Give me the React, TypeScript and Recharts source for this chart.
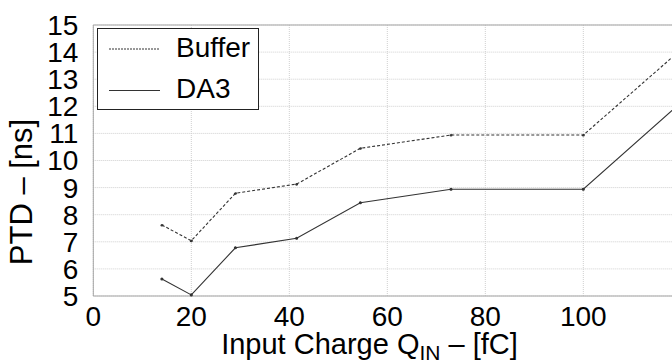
import { CartesianGrid, Legend, Line, LineChart, ReferenceLine, XAxis, YAxis } from "recharts";

const charge = [14, 20, 29, 41.5, 54.5, 73, 100, 120];
const buffer = [7.62, 7.04, 8.79, 9.13, 10.45, 10.94, 10.94, 14.1];
const da3 = [5.63, 5.04, 6.78, 7.13, 8.44, 8.94, 8.94, 12.15];
const xTicks = [0, 20, 40, 60, 80, 100];
const yTicks = [5, 6, 7, 8, 9, 10, 11, 12, 13, 14, 15];

const data = charge.map((q, i) => ({ q, buffer: buffer[i], da3: da3[i] }));

const font = '"Liberation Sans", Arial, sans-serif';
const lineColor = "#333";
const axisColor = "#a6a6a6";

function LegendBox({ payload }: any) {
  const items = payload || [];
  return (
    <svg width={162} height={82} style={{ display: "block" }}>
      <rect x={0.5} y={0.5} width={161} height={81} fill="#fff" stroke="#222" strokeWidth={1} />
      {items.map((item: any, i: number) => (
        <g key={item.value}>
          <line
            x1={12}
            x2={63}
            y1={21 + i * 41.5}
            y2={21 + i * 41.5}
            stroke={lineColor}
            strokeWidth={1}
            strokeDasharray={item.dataKey === "buffer" ? "2 1" : undefined}
          />
          <text x={79} y={29 + i * 41.2} fontSize={28} fontFamily={font} fill="#000">
            {item.value}
          </text>
        </g>
      ))}
    </svg>
  );
}

function XLabel() {
  return (
    <text x={369.5} y={354} textAnchor="middle" fontSize={29} fontFamily={font} fill="#000">
      Input Charge Q
      <tspan fontSize={21} dy={6}>IN</tspan>
      <tspan dy={-6}> – [fC]</tspan>
    </text>
  );
}

function YLabel() {
  return (
    <text
      x={31.5}
      y={192}
      transform="rotate(-90 31.5 192)"
      textAnchor="middle"
      fontSize={31}
      fontFamily={font}
      fill="#000"
    >
      PTD – [ns]
    </text>
  );
}

export default function App() {
  return (
    <div
      style={{
        position: "fixed",
        left: 0,
        top: 0,
        width: 672,
        height: 362,
        overflow: "hidden",
        background: "#fff",
      }}
    >
      <LineChart width={720} height={362} data={data} margin={{ top: 25, right: 38.7, left: 0, bottom: 0 }}>
        <CartesianGrid stroke="#cfcfcf" strokeDasharray="1 1" />
        <XAxis
          dataKey="q"
          type="number"
          domain={[0, 120]}
          ticks={xTicks}
          interval={0}
          height={66}
          tickLine={false}
          tickSize={6}
          tickMargin={4}
          axisLine={{ stroke: axisColor }}
          tick={{ fontSize: 28, fontFamily: font, fill: "#000" }}
          label={<XLabel />}
        />
        <YAxis
          type="number"
          domain={[5, 15]}
          ticks={yTicks}
          interval={0}
          width={93.3}
          tickLine={false}
          tickSize={6}
          tickMargin={9}
          axisLine={{ stroke: axisColor }}
          tick={{ fontSize: 28, fontFamily: font, fill: "#000" }}
          label={<YLabel />}
        />
        <ReferenceLine y={15} stroke={axisColor} />
        <Legend
          layout="vertical"
          align="center"
          verticalAlign="middle"
          content={<LegendBox />}
          wrapperStyle={{ position: "absolute", left: 97, top: 28, width: 162, height: 82 }}
        />
        <Line
          name="Buffer"
          dataKey="buffer"
          type="linear"
          stroke={lineColor}
          strokeWidth={1.1}
          strokeDasharray="3 2"
          dot={{ r: 1, fill: lineColor, stroke: lineColor }}
          isAnimationActive={false}
        />
        <Line
          name="DA3"
          dataKey="da3"
          type="linear"
          stroke={lineColor}
          strokeWidth={1.1}
          dot={{ r: 1, fill: lineColor, stroke: lineColor }}
          isAnimationActive={false}
        />
      </LineChart>
    </div>
  );
}
